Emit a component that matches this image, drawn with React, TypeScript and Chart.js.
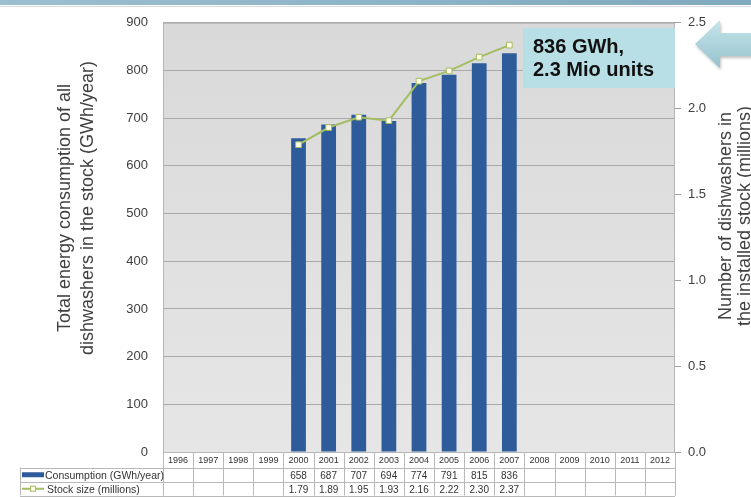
import React, { useEffect, useRef } from "react";
import { Chart, registerables } from "chart.js";

Chart.register(...registerables);

const years = ["1996", "1997", "1998", "1999", "2000", "2001", "2002", "2003", "2004", "2005", "2006", "2007", "2008", "2009", "2010", "2011", "2012"];
const consumption: (number | null)[] = [null, null, null, null, 658, 687, 707, 694, 774, 791, 815, 836, null, null, null, null, null];
const stock: (number | null)[] = [null, null, null, null, 1.79, 1.89, 1.95, 1.93, 2.16, 2.22, 2.3, 2.37, null, null, null, null, null];
const stockLabels = ["", "", "", "", "1.79", "1.89", "1.95", "1.93", "2.16", "2.22", "2.30", "2.37", "", "", "", "", ""];
const leftMax = 900;
const leftStep = 100;
const rightMax = 2.5;
const rightStep = 0.5;
const seriesNames = ["Consumption (GWh/year)", "Stock size (millions)"];
const leftTitle = ["Total energy consumption of all", "dishwashers in the stock (GWh/year)"];
const rightTitle = ["Number of dishwashers in", "the installed stock (millions)"];
const calloutLines = ["836 GWh,", "2.3 Mio units"];

const FONT = '"Liberation Sans", Arial, sans-serif';
const BAR_COLOR = "#2e5c9a";
const LINE_COLOR = "#a3bd62";
const TEXT = "#404040";

const decorPlugin = {
  id: "decor",
  beforeDraw(chart: any) {
    const { ctx, chartArea: a } = chart;
    ctx.save();
    const g0 = ctx.createLinearGradient(0, 0, chart.width, 0);
    g0.addColorStop(0, "#9cbfd0");
    g0.addColorStop(1, "#7fa9bf");
    ctx.fillStyle = g0;
    ctx.fillRect(0, 0, chart.width, 5);
    ctx.fillStyle = "#d8dde0";
    ctx.fillRect(0, 6, chart.width, 1);
    const g = ctx.createLinearGradient(0, a.top, 0, a.bottom);
    g.addColorStop(0, "#d9d9d9");
    g.addColorStop(1, "#e6e6e6");
    ctx.fillStyle = g;
    ctx.fillRect(a.left, a.top, a.right - a.left, a.bottom - a.top);
    ctx.restore();
  },
  afterDraw(chart: any) {
    const { ctx, chartArea: a } = chart;
    const x = chart.scales.x;
    ctx.save();
    ctx.strokeStyle = "#b5b5b5";
    ctx.lineWidth = 1;
    ctx.strokeRect(a.left + 0.5, a.top + 0.5, a.right - a.left - 1, a.bottom - a.top);

    // data table
    const n = years.length;
    const w = (a.right - a.left) / n;
    const r0 = a.bottom, r1 = a.bottom + 15.5, r2 = a.bottom + 30, r3 = a.bottom + 43.5;
    const legLeft = 20;
    ctx.fillStyle = "#ffffff";
    ctx.fillRect(a.left, r0, a.right - a.left, r3 - r0);
    ctx.fillRect(legLeft, r1, a.left - legLeft, r3 - r1);
    ctx.strokeStyle = "#b8b8b8";
    ctx.lineWidth = 1;
    ctx.beginPath();
    for (let i = 0; i <= n; i++) {
      const xx = Math.round(a.left + i * w) + 0.5;
      ctx.moveTo(xx, r0);
      ctx.lineTo(xx, r3);
    }
    ctx.moveTo(a.left, Math.round(r0) + 0.5);
    ctx.lineTo(a.right, Math.round(r0) + 0.5);
    [r1, r2, r3].forEach((yy) => {
      ctx.moveTo(legLeft, Math.round(yy) + 0.5);
      ctx.lineTo(a.right, Math.round(yy) + 0.5);
    });
    ctx.moveTo(legLeft + 0.5, r1);
    ctx.lineTo(legLeft + 0.5, r3);
    ctx.stroke();

    ctx.fillStyle = "#333333";
    ctx.textAlign = "center";
    ctx.textBaseline = "middle";
    for (let i = 0; i < n; i++) {
      const cx = x.getPixelForValue(i);
      ctx.font = `9px ${FONT}`;
      ctx.fillText(years[i], cx, (r0 + r1) / 2 + 1);
      ctx.font = `10px ${FONT}`;
      if (consumption[i] != null) ctx.fillText(String(consumption[i]), cx, (r1 + r2) / 2 + 1);
      if (stock[i] != null) ctx.fillText(stockLabels[i], cx, (r2 + r3) / 2 + 1);
    }
    ctx.fillStyle = BAR_COLOR;
    ctx.fillRect(22, (r1 + r2) / 2 - 2.5, 22, 5);
    ctx.strokeStyle = LINE_COLOR;
    ctx.lineWidth = 2;
    ctx.beginPath();
    ctx.moveTo(22, (r2 + r3) / 2);
    ctx.lineTo(44, (r2 + r3) / 2);
    ctx.stroke();
    ctx.fillStyle = "#fffde8";
    ctx.lineWidth = 1;
    ctx.fillRect(30, (r2 + r3) / 2 - 3, 6, 6);
    ctx.strokeRect(30.5, (r2 + r3) / 2 - 2.5, 5, 5);
    ctx.fillStyle = "#333333";
    ctx.textAlign = "left";
    ctx.font = `10.5px ${FONT}`;
    ctx.fillText(seriesNames[0], 45, (r1 + r2) / 2 + 1);
    ctx.fillText(seriesNames[1], 47, (r2 + r3) / 2 + 1);

    // axis titles
    ctx.fillStyle = TEXT;
    ctx.font = `18px ${FONT}`;
    ctx.textAlign = "center";
    ctx.textBaseline = "middle";
    [65, 88].forEach((tx, i) => {
      ctx.save();
      ctx.translate(tx, 208);
      ctx.rotate(-Math.PI / 2);
      ctx.fillText(leftTitle[i], 0, 0);
      ctx.restore();
    });
    [726, 745].forEach((tx, i) => {
      ctx.save();
      ctx.translate(tx, 216);
      ctx.rotate(-Math.PI / 2);
      ctx.fillText(rightTitle[i], 0, 0);
      ctx.restore();
    });

    // callout box
    ctx.fillStyle = "#b9dfe6";
    ctx.fillRect(523, 28, a.right - 523, 60);
    ctx.fillStyle = "#111111";
    ctx.font = `bold 20px ${FONT}`;
    ctx.textAlign = "left";
    ctx.textBaseline = "alphabetic";
    ctx.fillText(calloutLines[0], 533, 53);
    ctx.fillText(calloutLines[1], 533, 76);

    // arrow
    ctx.save();
    ctx.shadowColor = "rgba(0,0,0,0.25)";
    ctx.shadowBlur = 3;
    ctx.shadowOffsetX = 1;
    ctx.shadowOffsetY = 2;
    const ga = ctx.createLinearGradient(0, 20, 0, 68);
    ga.addColorStop(0, "#c6e4ea");
    ga.addColorStop(1, "#95c3cd");
    ctx.fillStyle = ga;
    ctx.beginPath();
    ctx.moveTo(695, 44);
    ctx.lineTo(720, 20);
    ctx.lineTo(720, 33);
    ctx.lineTo(760, 33);
    ctx.lineTo(760, 56);
    ctx.lineTo(720, 56);
    ctx.lineTo(720, 68);
    ctx.closePath();
    ctx.fill();
    ctx.restore();
    ctx.restore();
  },
};

export default function App() {
  const ref = useRef<HTMLCanvasElement>(null);
  useEffect(() => {
    if (!ref.current) return;
    const chart = new Chart(ref.current, {
      type: "bar",
      data: {
        labels: years,
        datasets: [
          {
            type: "line",
            label: seriesNames[1],
            data: stock,
            yAxisID: "y2",
            borderColor: LINE_COLOR,
            borderWidth: 2,
            pointStyle: "rect",
            pointRadius: 4,
            pointBackgroundColor: "#fffde8",
            pointBorderColor: LINE_COLOR,
            pointBorderWidth: 1,
            tension: 0,
            order: 0,
          } as any,
          {
            type: "bar",
            label: seriesNames[0],
            data: consumption,
            yAxisID: "y",
            backgroundColor: BAR_COLOR,
            categoryPercentage: 1,
            barPercentage: 0.49,
            order: 1,
          },
        ],
      },
      options: {
        responsive: false,
        animation: false,
        layout: { padding: { top: 16, bottom: 45, left: 0, right: 0 } },
        plugins: { legend: { display: false }, tooltip: { enabled: false } },
        scales: {
          x: { display: false, offset: true },
          y: {
            position: "left",
            min: 0,
            max: leftMax,
            afterFit: (s: any) => { s.width = 163; },
            ticks: { stepSize: leftStep, padding: 15, color: TEXT, font: { family: FONT, size: 13 } },
            grid: { color: "#a9a9a9", drawTicks: false },
            border: { display: false },
          },
          y2: {
            position: "right",
            min: 0,
            max: rightMax,
            afterFit: (s: any) => { s.width = 76; },
            ticks: {
              stepSize: rightStep,
              padding: 7,
              color: TEXT,
              font: { family: FONT, size: 13 },
              callback: (v: any) => Number(v).toFixed(1),
            },
            grid: { drawOnChartArea: false, drawTicks: true, tickLength: 6, color: "#a0a0a0" },
            border: { display: false },
          },
        },
      },
      plugins: [decorPlugin],
    });
    return () => chart.destroy();
  }, []);
  return (
    <div style={{ position: "fixed", left: 0, top: 0, width: 751, height: 497, background: "#fff" }}>
      <canvas ref={ref} width={751} height={497} />
    </div>
  );
}
